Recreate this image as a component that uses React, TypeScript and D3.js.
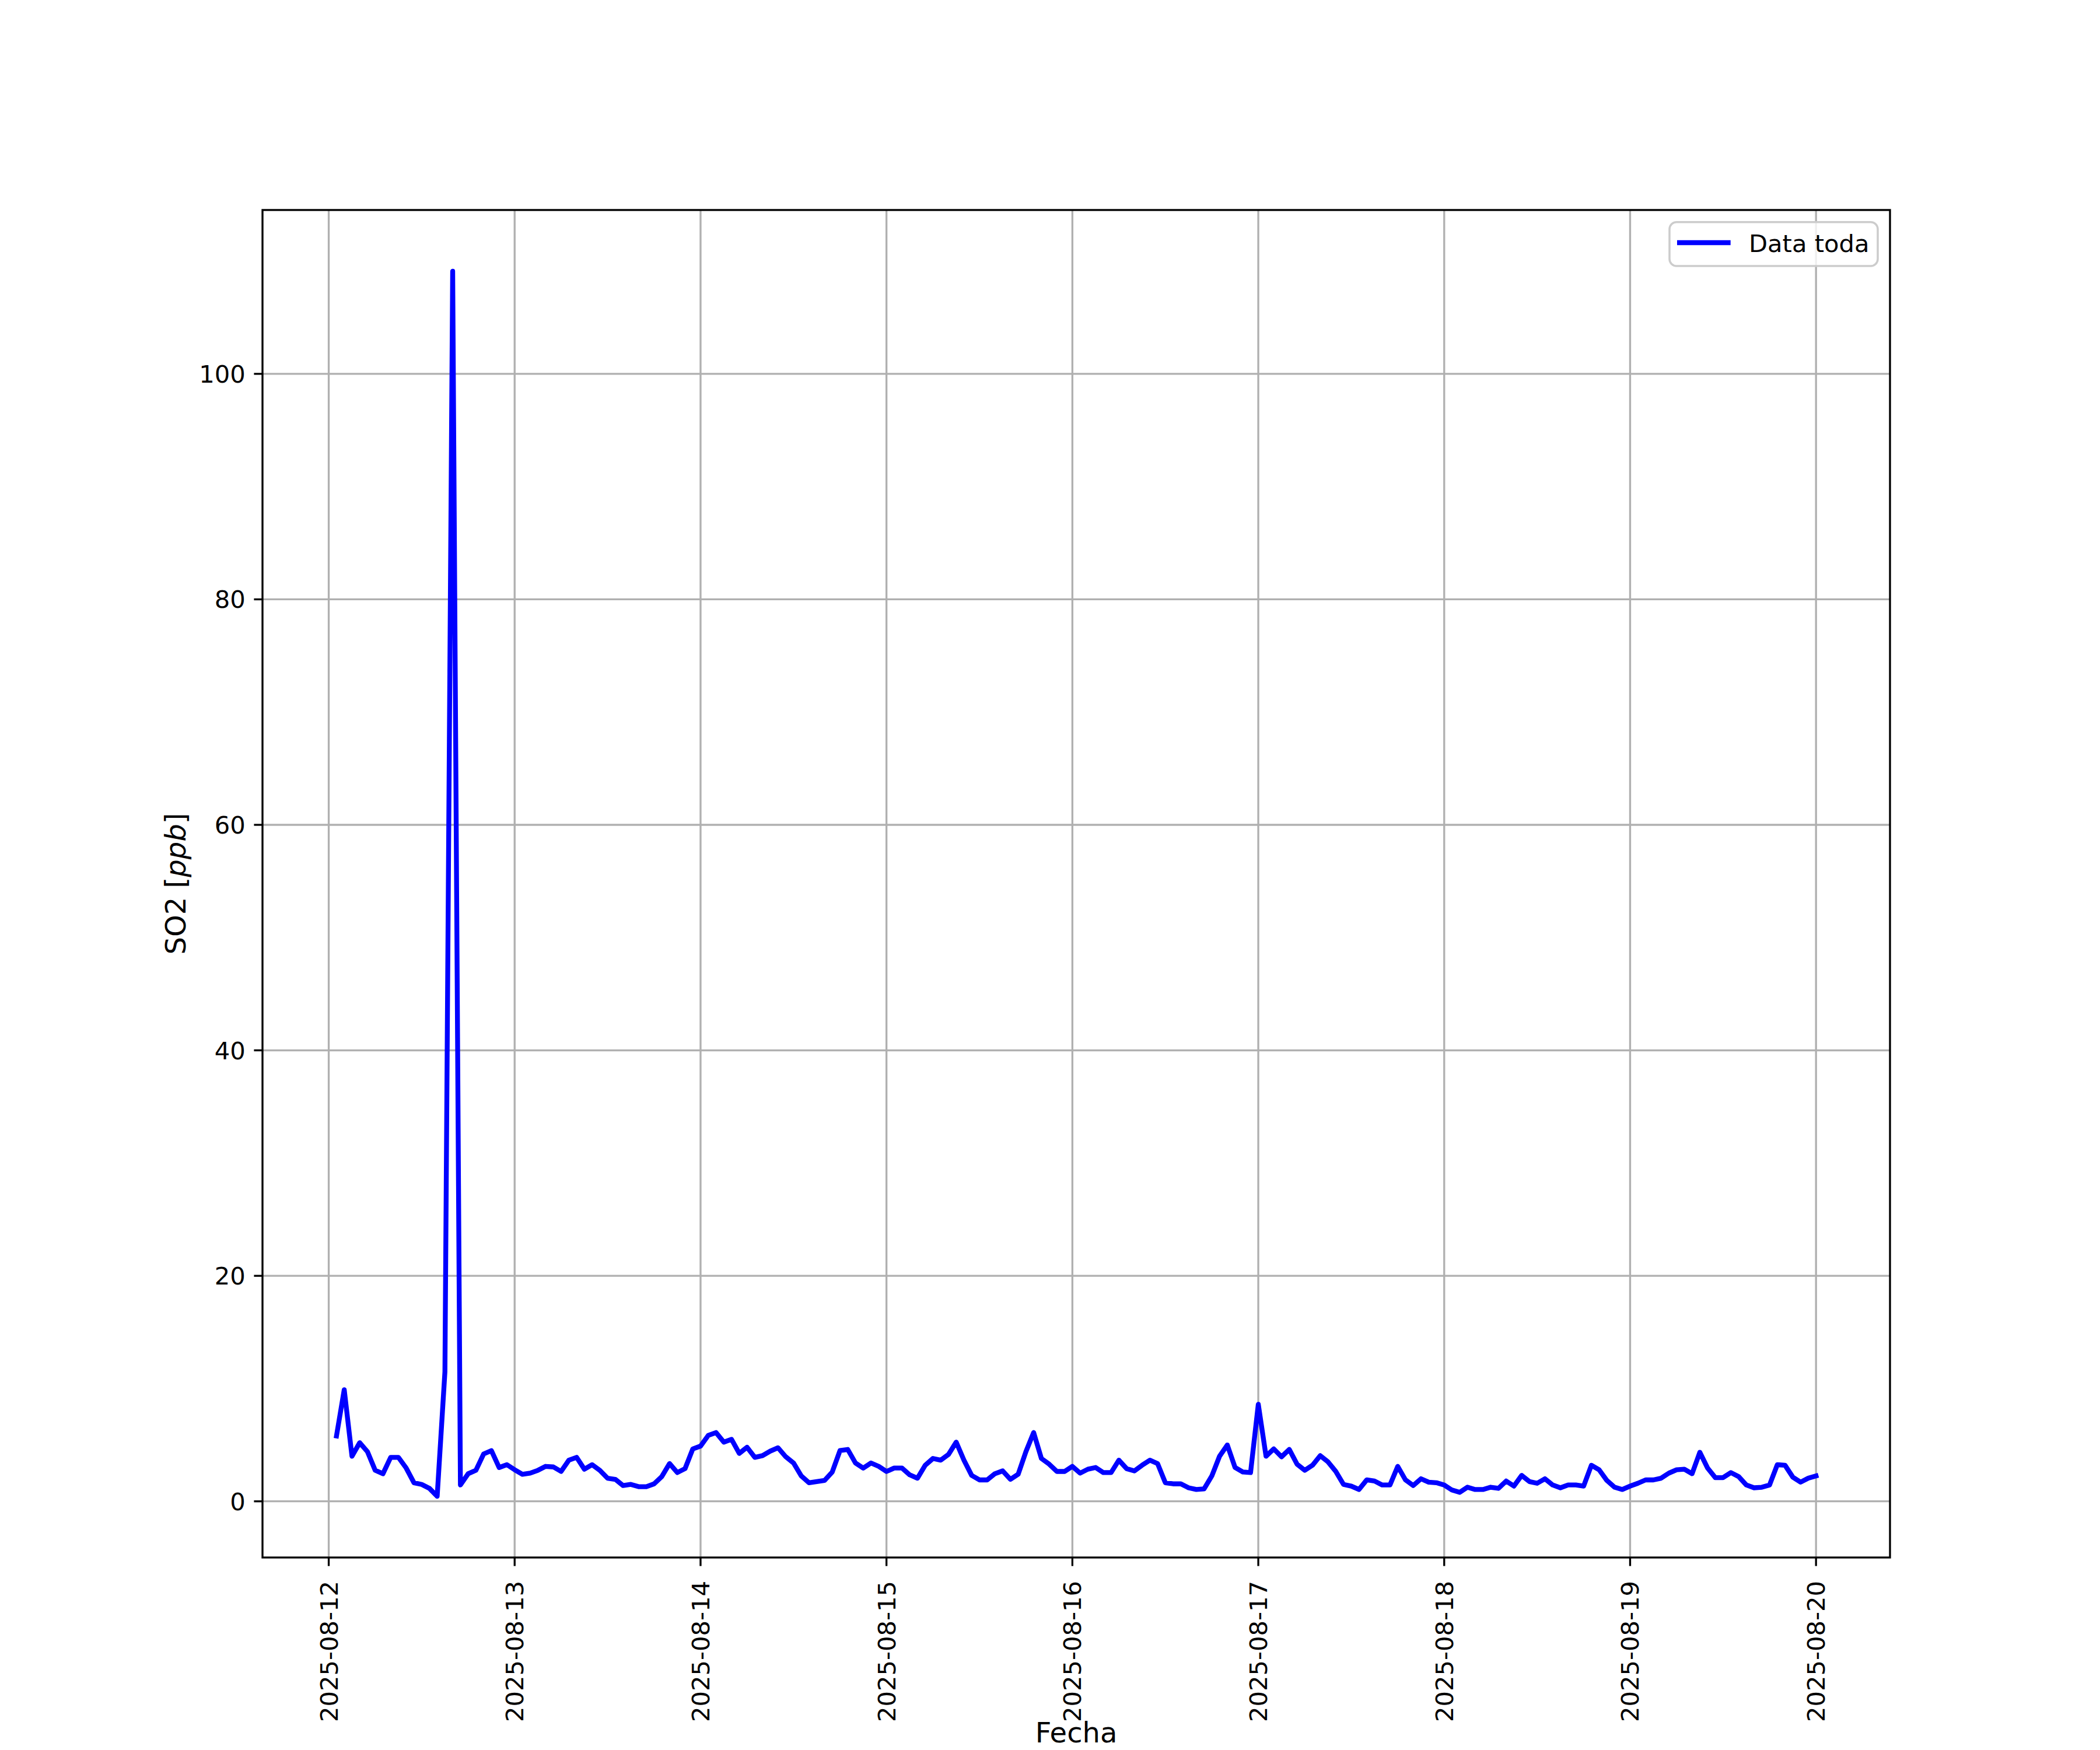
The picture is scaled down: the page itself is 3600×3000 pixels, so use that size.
import React from "react";
import * as d3 from "d3";

// SO2 hourly means. First sample 2025-08-12 01:00, one per hour.
const startTime = Date.UTC(2025, 7, 12, 1);

const so2Aug12 = [5.8, 9.9, 4.0, 5.2, 4.4, 2.75, 2.45, 3.9, 3.9, 2.95, 1.65, 1.5, 1.15, 0.45, 11.5, 109.1, 1.45, 2.45, 2.75, 4.2, 4.5, 3.0, 3.25];
const so2Aug13 = [2.8, 2.4, 2.5, 2.75, 3.1, 3.05, 2.65, 3.65, 3.9, 2.85, 3.25, 2.75, 2.05, 1.95, 1.4, 1.5, 1.3, 1.3, 1.55, 2.2, 3.35, 2.55, 2.9, 4.65];
const so2Aug14 = [4.9, 5.85, 6.1, 5.25, 5.5, 4.25, 4.8, 3.9, 4.05, 4.45, 4.75, 3.95, 3.4, 2.25, 1.65, 1.75, 1.85, 2.6, 4.5, 4.6, 3.4, 2.95, 3.4, 3.1];
const so2Aug15 = [2.65, 2.95, 2.95, 2.35, 2.05, 3.2, 3.8, 3.65, 4.15, 5.25, 3.65, 2.3, 1.9, 1.9, 2.45, 2.7, 1.95, 2.4, 4.4, 6.1, 3.8, 3.3, 2.65, 2.65];
const so2Aug16 = [3.1, 2.5, 2.85, 3.0, 2.55, 2.55, 3.65, 2.9, 2.7, 3.2, 3.65, 3.35, 1.65, 1.55, 1.55, 1.2, 1.05, 1.1, 2.25, 4.0, 5.0, 3.0, 2.6, 2.55];
const so2Aug17 = [8.6, 4.0, 4.65, 3.95, 4.6, 3.3, 2.75, 3.2, 4.05, 3.5, 2.65, 1.5, 1.35, 1.05, 1.9, 1.8, 1.45, 1.45, 3.1, 1.9, 1.4, 2.0, 1.7, 1.65];
const so2Aug18 = [1.45, 1.0, 0.8, 1.25, 1.05, 1.05, 1.25, 1.15, 1.8, 1.35, 2.3, 1.75, 1.6, 2.0, 1.45, 1.2, 1.45, 1.45, 1.35, 3.2, 2.8, 1.85, 1.25, 1.05];
const so2Aug19 = [1.35, 1.6, 1.9, 1.9, 2.05, 2.5, 2.8, 2.85, 2.45, 4.35, 2.95, 2.1, 2.1, 2.55, 2.2, 1.45, 1.2, 1.25, 1.45, 3.25, 3.2, 2.15, 1.7, 2.05];
const so2Aug20 = [2.25];

const yTicks = [0, 20, 40, 60, 80, 100];
const seriesName = "Data toda";
const xLabel = "Fecha";

const so2 = [...so2Aug12, ...so2Aug13, ...so2Aug14, ...so2Aug15, ...so2Aug16, ...so2Aug17, ...so2Aug18, ...so2Aug19, ...so2Aug20];
const data = so2.map((v, i) => ({ t: new Date(startTime + i * 3600 * 1000), v }));

export default function App() {
  const width = 3600;
  const height = 3000;
  const margin = { top: 360, left: 450, bottom: 330, right: 360 };
  const iwidth = width - margin.left - margin.right;
  const iheight = height - margin.top - margin.bottom;
  const font = "DejaVu Sans, sans-serif";
  const tickFs = 41.67;
  const labelFs = 48;
  const lw = 3.33;

  const tExt = d3.extent(data, d => +d.t) as [number, number];
  const tPad = (tExt[1] - tExt[0]) * 0.05;
  const x = d3.scaleUtc().domain([new Date(tExt[0] - tPad), new Date(tExt[1] + tPad)]).range([0, iwidth]);

  const vExt = d3.extent(data, d => d.v) as [number, number];
  const vPad = (vExt[1] - vExt[0]) * 0.05;
  const y = d3.scaleLinear().domain([vExt[0] - vPad, vExt[1] + vPad]).range([iheight, 0]);

  const xTicks = d3.utcDay.range(new Date(Date.UTC(2025, 7, 12)), new Date(Date.UTC(2025, 7, 20, 1)));
  const fmt = d3.utcFormat("%Y-%m-%d");

  const line = d3.line<{ t: Date; v: number }>()
    .x(d => x(d.t))
    .y(d => y(d.v));

  return (
    <div style={{ position: "absolute", left: 0, top: 0 }}>
      <svg width={width} height={height} style={{ display: "block", background: "#fff" }} fontFamily={font}>
        <g transform={`translate(${margin.left},${margin.top})`}>
          {/* grid */}
          {xTicks.map(t => (
            <line key={"gx" + +t} x1={x(t)} x2={x(t)} y1={0} y2={iheight} stroke="#b0b0b0" strokeWidth={lw} />
          ))}
          {yTicks.map(v => (
            <line key={"gy" + v} x1={0} x2={iwidth} y1={y(v)} y2={y(v)} stroke="#b0b0b0" strokeWidth={lw} />
          ))}

          <path d={line(data) || ""} fill="none" stroke="#0000ff" strokeWidth={8.33} strokeLinejoin="round" strokeLinecap="square" />

          {/* spines */}
          <rect x={0} y={0} width={iwidth} height={iheight} fill="none" stroke="#000" strokeWidth={lw} />

          {/* x ticks */}
          {xTicks.map(t => (
            <g key={"xt" + +t} transform={`translate(${x(t)},${iheight})`}>
              <line y1={0} y2={14.6} stroke="#000" strokeWidth={lw} />
              <text transform="translate(0,40) rotate(-90)" textAnchor="end" dy="0.36em" fontSize={tickFs} fill="#000">
                {fmt(t)}
              </text>
            </g>
          ))}

          {/* y ticks */}
          {yTicks.map(v => (
            <g key={"yt" + v} transform={`translate(0,${y(v)})`}>
              <line x1={-14.6} x2={0} stroke="#000" strokeWidth={lw} />
              <text x={-29.2} dy="0.36em" textAnchor="end" fontSize={tickFs} fill="#000">
                {v}
              </text>
            </g>
          ))}

          {/* legend */}
          <g transform={`translate(${iwidth - 378},${20.7})`}>
            <rect x={0} y={0} width={357} height={75.3} rx={12} ry={12} fill="#fff" fillOpacity={0.8} stroke="#cccccc" strokeWidth={3.5} />
            <line x1={13} x2={104.7} y1={35.3} y2={35.3} stroke="#0000ff" strokeWidth={8.33} />
            <text x={136} y={51} fontSize={tickFs} fill="#000">{seriesName}</text>
          </g>
        </g>

        {/* axis labels */}
        <text x={margin.left + iwidth / 2} y={2987} textAnchor="middle" fontSize={labelFs} fill="#000">
          {xLabel}
        </text>
        <text transform={`translate(318,${margin.top + iheight / 2}) rotate(-90)`} textAnchor="middle" fontSize={labelFs} fill="#000">
          SO2 [<tspan fontStyle="italic">ppb</tspan>]
        </text>
      </svg>
    </div>
  );
}
